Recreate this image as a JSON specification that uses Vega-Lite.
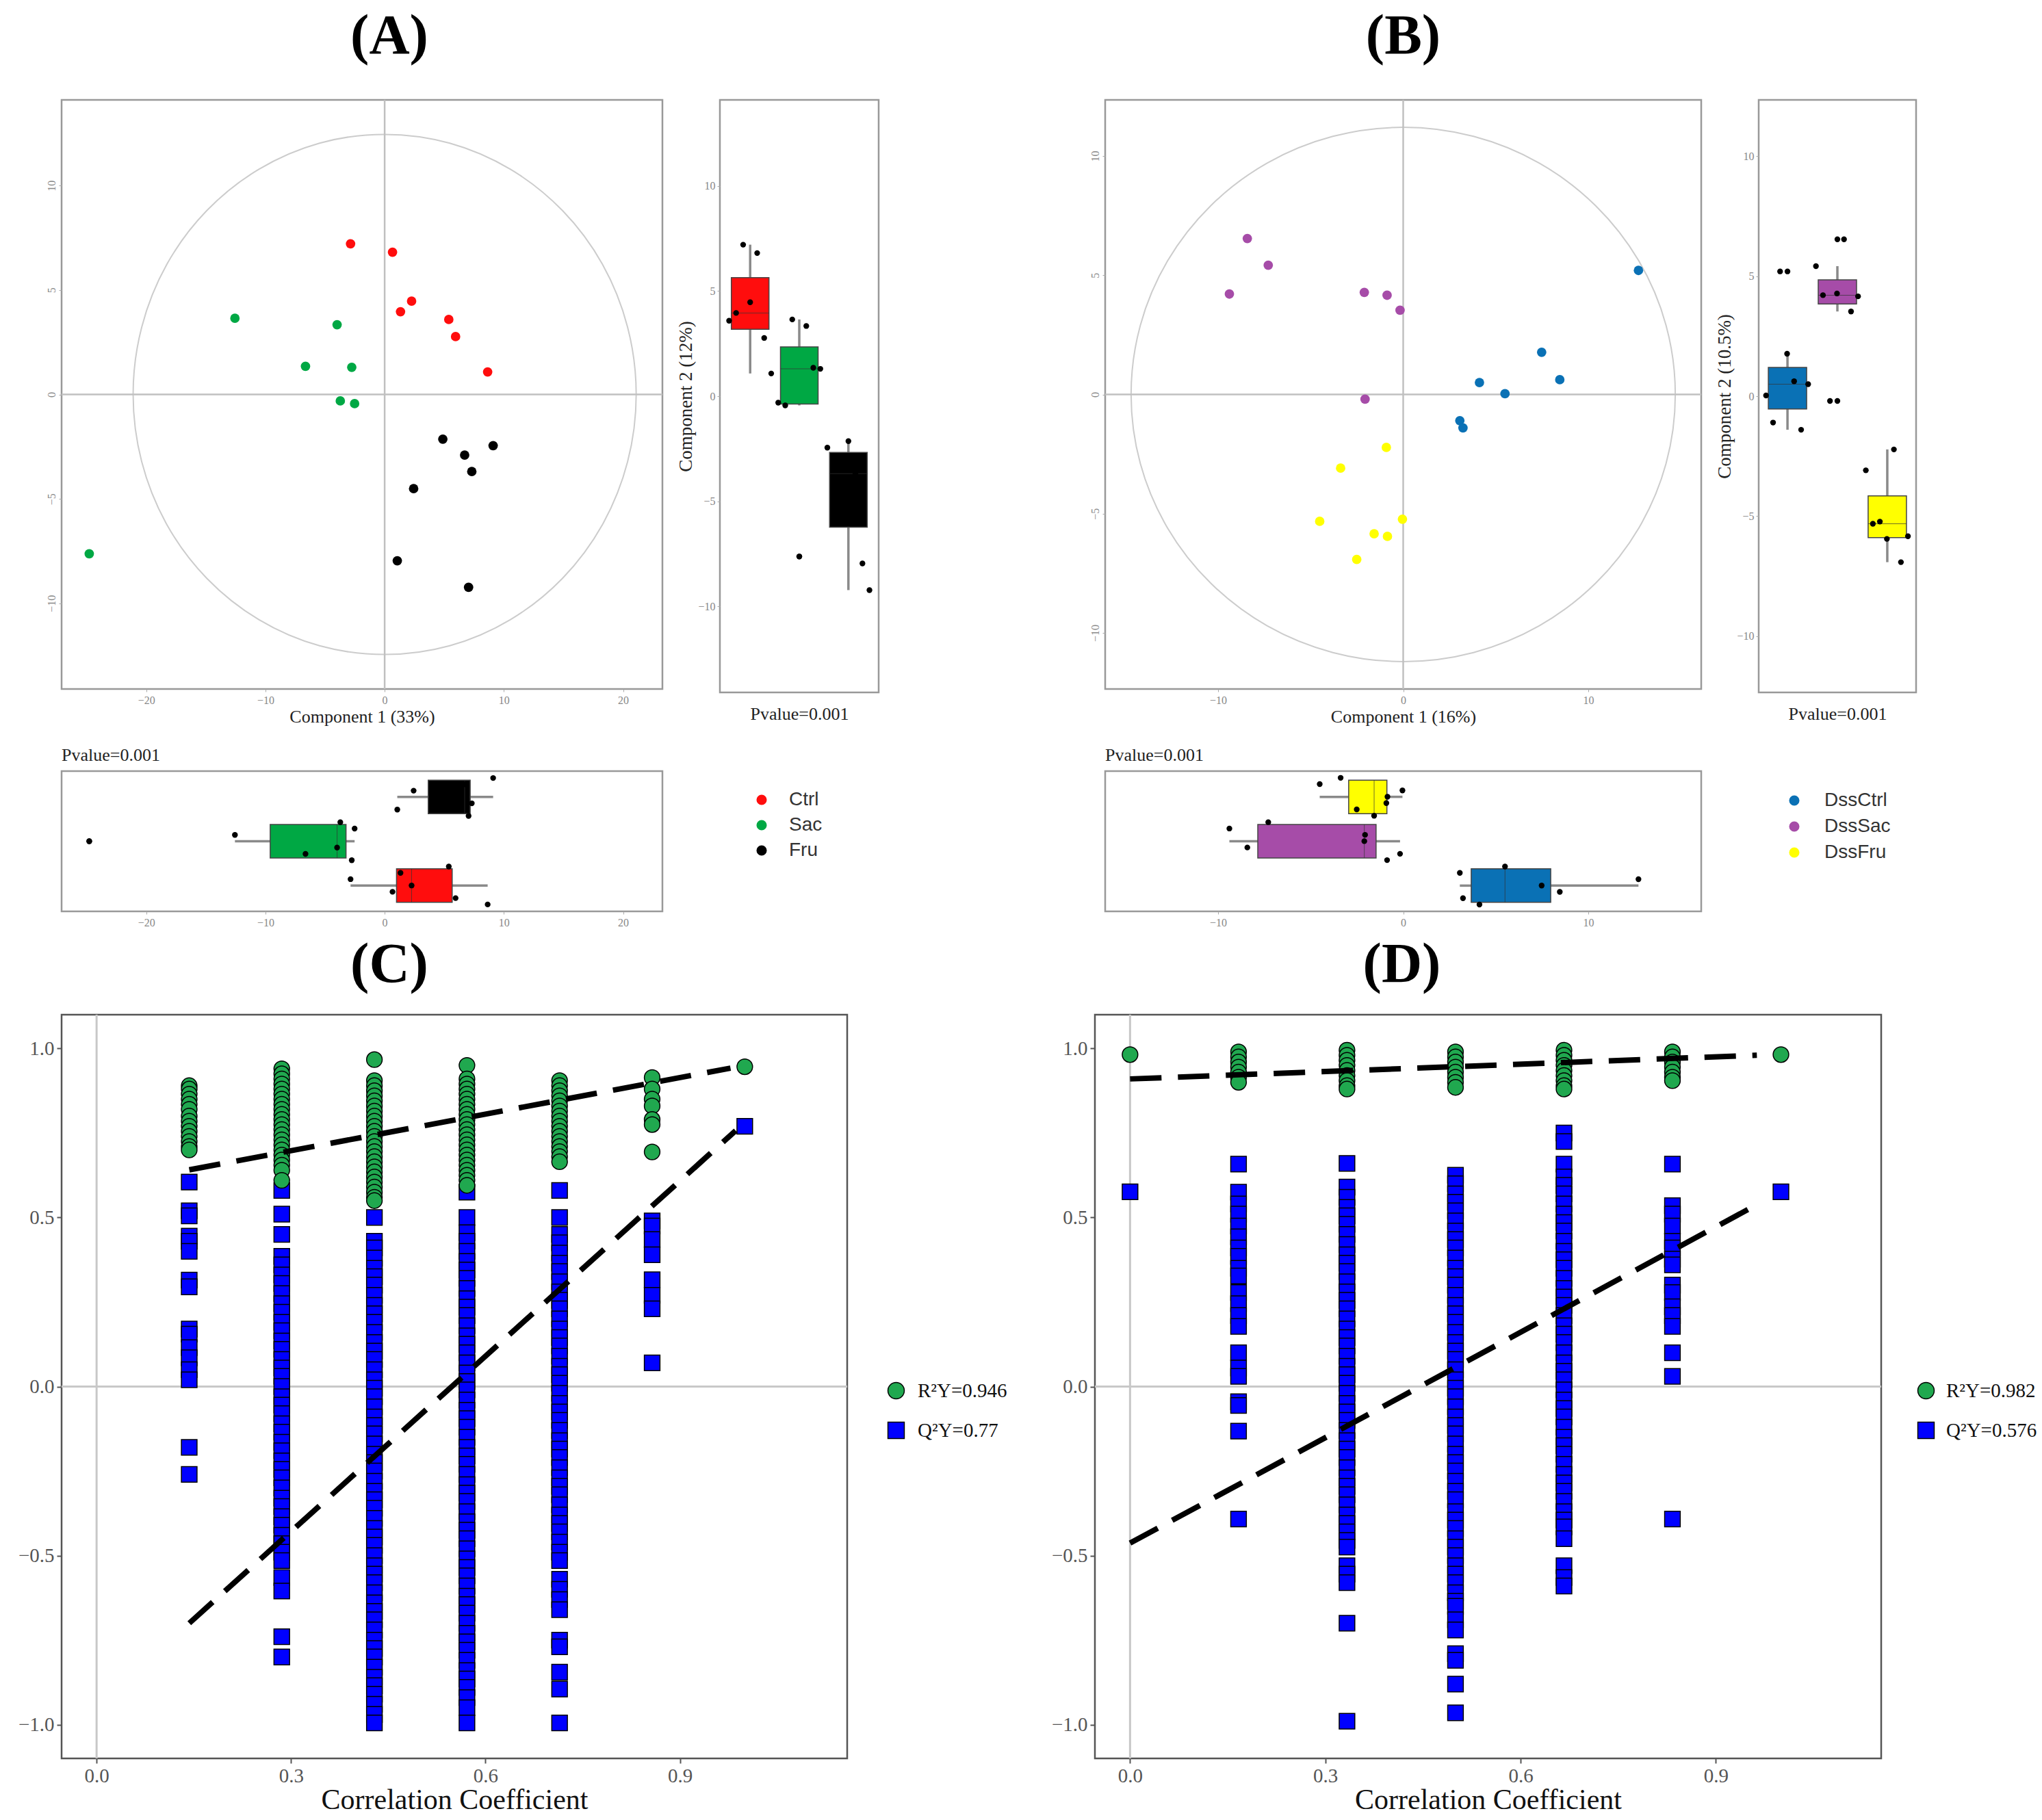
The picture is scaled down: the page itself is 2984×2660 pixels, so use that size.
{
"$schema":"https://vega.github.io/schema/vega-lite/v6.json",
"background":"white",
"padding":{"left":25,"top":10,"right":10,"bottom":5},
"config":{
"view":{"stroke":"#999","strokeWidth":2.5},
"axis":{"grid":false,"domain":false,"labelFont":"Liberation Serif","titleFont":"Liberation Serif","titleFontWeight":"normal","labelFontSize":16,"labelColor":"#888","tickColor":"#aaa","tickSize":4,"labelPadding":3,"titleColor":"#222","titleFontSize":26},
"title":{"font":"Liberation Serif","fontWeight":"bold","fontSize":82,"color":"#000","baseline":"alphabetic","frame":"group"}
},
"datasets":{
"a":[
{"g":"Ctrl","s":"s3","pc1":-2.86,"pc2":7.21},{"g":"Ctrl","s":"s5","pc1":0.66,"pc2":6.81},{"g":"Ctrl","s":"s4","pc1":2.26,"pc2":4.47},{"g":"Ctrl","s":"s2","pc1":1.33,"pc2":3.96},{"g":"Ctrl","s":"s1","pc1":5.38,"pc2":3.59},{"g":"Ctrl","s":"s6","pc1":5.95,"pc2":2.77},{"g":"Ctrl","s":"s7","pc1":8.64,"pc2":1.08},
{"g":"Sac","s":"s3","pc1":-12.56,"pc2":3.65},{"g":"Sac","s":"s5","pc1":-3.99,"pc2":3.34},{"g":"Sac","s":"s6","pc1":-6.64,"pc2":1.35},{"g":"Sac","s":"s7","pc1":-2.76,"pc2":1.3},{"g":"Sac","s":"s1","pc1":-3.72,"pc2":-0.31},{"g":"Sac","s":"s2","pc1":-2.52,"pc2":-0.44},{"g":"Sac","s":"s4","pc1":-24.78,"pc2":-7.63},
{"g":"Fru","s":"s4","pc1":4.88,"pc2":-2.14},{"g":"Fru","s":"s1","pc1":9.1,"pc2":-2.45},{"g":"Fru","s":"s2","pc1":6.71,"pc2":-2.9},{"g":"Fru","s":"s5","pc1":7.31,"pc2":-3.69},{"g":"Fru","s":"s3","pc1":2.43,"pc2":-4.51},{"g":"Fru","s":"s6","pc1":1.06,"pc2":-7.96},{"g":"Fru","s":"s7","pc1":7.04,"pc2":-9.23}
],
"b":[
{"g":"DssCtrl","s":"s3","pc1":12.71,"pc2":5.2},{"g":"DssCtrl","s":"s4","pc1":7.48,"pc2":1.77},{"g":"DssCtrl","s":"s5","pc1":8.46,"pc2":0.62},{"g":"DssCtrl","s":"s7","pc1":4.12,"pc2":0.5},{"g":"DssCtrl","s":"s1","pc1":5.5,"pc2":0.03},{"g":"DssCtrl","s":"s2","pc1":3.06,"pc2":-1.1},{"g":"DssCtrl","s":"s6","pc1":3.23,"pc2":-1.4},
{"g":"DssSac","s":"s5","pc1":-8.42,"pc2":6.54},{"g":"DssSac","s":"s1","pc1":-7.29,"pc2":5.42},{"g":"DssSac","s":"s2","pc1":-9.39,"pc2":4.21},{"g":"DssSac","s":"s4","pc1":-2.1,"pc2":4.28},{"g":"DssSac","s":"s7","pc1":-0.87,"pc2":4.16},{"g":"DssSac","s":"s6","pc1":-0.17,"pc2":3.53},{"g":"DssSac","s":"s3","pc1":-2.06,"pc2":-0.2},
{"g":"DssFru","s":"s5","pc1":-0.91,"pc2":-2.22},{"g":"DssFru","s":"s1","pc1":-3.38,"pc2":-3.09},{"g":"DssFru","s":"s3","pc1":-0.04,"pc2":-5.23},{"g":"DssFru","s":"s2","pc1":-4.51,"pc2":-5.32},{"g":"DssFru","s":"s7","pc1":-1.57,"pc2":-5.84},{"g":"DssFru","s":"s4","pc1":-0.85,"pc2":-5.95},{"g":"DssFru","s":"s6","pc1":-2.51,"pc2":-6.92}
],
"ea":[
{"i":0,"pc1":21.1,"pc2":0},{"i":1,"pc1":20.38,"pc2":3.22},{"i":2,"pc1":18.27,"pc2":6.23},{"i":3,"pc1":14.92,"pc2":8.8},{"i":4,"pc1":10.55,"pc2":10.78},{"i":5,"pc1":5.46,"pc2":12.03},{"i":6,"pc1":0,"pc2":12.45},{"i":7,"pc1":-5.46,"pc2":12.03},{"i":8,"pc1":-10.55,"pc2":10.78},{"i":9,"pc1":-14.92,"pc2":8.8},{"i":10,"pc1":-18.27,"pc2":6.23},{"i":11,"pc1":-20.38,"pc2":3.22},{"i":12,"pc1":-21.1,"pc2":0},{"i":13,"pc1":-20.38,"pc2":-3.22},{"i":14,"pc1":-18.27,"pc2":-6.23},{"i":15,"pc1":-14.92,"pc2":-8.8},{"i":16,"pc1":-10.55,"pc2":-10.78},{"i":17,"pc1":-5.46,"pc2":-12.03},{"i":18,"pc1":0,"pc2":-12.45},{"i":19,"pc1":5.46,"pc2":-12.03},{"i":20,"pc1":10.55,"pc2":-10.78},{"i":21,"pc1":14.92,"pc2":-8.8},{"i":22,"pc1":18.27,"pc2":-6.23},{"i":23,"pc1":20.38,"pc2":-3.22}
],
"eb":[
{"i":0,"pc1":14.7,"pc2":0},{"i":1,"pc1":14.2,"pc2":2.9},{"i":2,"pc1":12.73,"pc2":5.6},{"i":3,"pc1":10.39,"pc2":7.92},{"i":4,"pc1":7.35,"pc2":9.7},{"i":5,"pc1":3.8,"pc2":10.82},{"i":6,"pc1":0,"pc2":11.2},{"i":7,"pc1":-3.8,"pc2":10.82},{"i":8,"pc1":-7.35,"pc2":9.7},{"i":9,"pc1":-10.39,"pc2":7.92},{"i":10,"pc1":-12.73,"pc2":5.6},{"i":11,"pc1":-14.2,"pc2":2.9},{"i":12,"pc1":-14.7,"pc2":0},{"i":13,"pc1":-14.2,"pc2":-2.9},{"i":14,"pc1":-12.73,"pc2":-5.6},{"i":15,"pc1":-10.39,"pc2":-7.92},{"i":16,"pc1":-7.35,"pc2":-9.7},{"i":17,"pc1":-3.8,"pc2":-10.82},{"i":18,"pc1":0,"pc2":-11.2},{"i":19,"pc1":3.8,"pc2":-10.82},{"i":20,"pc1":7.35,"pc2":-9.7},{"i":21,"pc1":10.39,"pc2":-7.92},{"i":22,"pc1":12.73,"pc2":-5.6},{"i":23,"pc1":14.2,"pc2":-2.9}
],
"pc":[
{"x":0.1429,"k":"Q","y":0.605},{"x":0.1429,"k":"Q","y":0.52},{"x":0.1429,"k":"Q","y":0.505},{"x":0.1429,"k":"Q","y":0.445},{"x":0.1429,"k":"Q","y":0.43},{"x":0.1429,"k":"Q","y":0.4},{"x":0.1429,"k":"Q","y":0.315},{"x":0.1429,"k":"Q","y":0.295},{"x":0.1429,"k":"Q","y":0.17},{"x":0.1429,"k":"Q","y":0.155},{"x":0.1429,"k":"Q","y":0.115},{"x":0.1429,"k":"Q","y":0.085},{"x":0.1429,"k":"Q","y":0.05},{"x":0.1429,"k":"Q","y":0.02},{"x":0.1429,"k":"Q","y":-0.18},{"x":0.1429,"k":"Q","y":-0.26},
{"x":0.2857,"k":"Q","y":0.58},{"x":0.2857,"k":"Q","y":0.51},{"x":0.2857,"k":"Q","y":0.45},{"x":0.2857,"k":"Q","y":0.385},{"x":0.2857,"k":"Q","y":0.36},{"x":0.2857,"k":"Q","y":0.33},{"x":0.2857,"k":"Q","y":0.305},{"x":0.2857,"k":"Q","y":0.275},{"x":0.2857,"k":"Q","y":0.245},{"x":0.2857,"k":"Q","y":0.22},{"x":0.2857,"k":"Q","y":0.19},{"x":0.2857,"k":"Q","y":0.165},{"x":0.2857,"k":"Q","y":0.135},{"x":0.2857,"k":"Q","y":0.11},{"x":0.2857,"k":"Q","y":0.08},{"x":0.2857,"k":"Q","y":0.055},{"x":0.2857,"k":"Q","y":0.03},{"x":0.2857,"k":"Q","y":0},{"x":0.2857,"k":"Q","y":-0.03},{"x":0.2857,"k":"Q","y":-0.055},{"x":0.2857,"k":"Q","y":-0.08},{"x":0.2857,"k":"Q","y":-0.11},{"x":0.2857,"k":"Q","y":-0.135},{"x":0.2857,"k":"Q","y":-0.165},{"x":0.2857,"k":"Q","y":-0.19},{"x":0.2857,"k":"Q","y":-0.22},{"x":0.2857,"k":"Q","y":-0.245},{"x":0.2857,"k":"Q","y":-0.27},{"x":0.2857,"k":"Q","y":-0.3},{"x":0.2857,"k":"Q","y":-0.33},{"x":0.2857,"k":"Q","y":-0.355},{"x":0.2857,"k":"Q","y":-0.385},{"x":0.2857,"k":"Q","y":-0.41},{"x":0.2857,"k":"Q","y":-0.44},{"x":0.2857,"k":"Q","y":-0.465},{"x":0.2857,"k":"Q","y":-0.49},{"x":0.2857,"k":"Q","y":-0.515},{"x":0.2857,"k":"Q","y":-0.565},{"x":0.2857,"k":"Q","y":-0.605},{"x":0.2857,"k":"Q","y":-0.74},{"x":0.2857,"k":"Q","y":-0.8},
{"x":0.4286,"k":"Q","y":0.5},{"x":0.4286,"k":"Q","y":0.43},{"x":0.4286,"k":"Q","y":0.41},{"x":0.4286,"k":"Q","y":0.38},{"x":0.4286,"k":"Q","y":0.35},{"x":0.4286,"k":"Q","y":0.325},{"x":0.4286,"k":"Q","y":0.3},{"x":0.4286,"k":"Q","y":0.27},{"x":0.4286,"k":"Q","y":0.24},{"x":0.4286,"k":"Q","y":0.215},{"x":0.4286,"k":"Q","y":0.19},{"x":0.4286,"k":"Q","y":0.16},{"x":0.4286,"k":"Q","y":0.13},{"x":0.4286,"k":"Q","y":0.105},{"x":0.4286,"k":"Q","y":0.08},{"x":0.4286,"k":"Q","y":0.05},{"x":0.4286,"k":"Q","y":0.02},{"x":0.4286,"k":"Q","y":-0.005},{"x":0.4286,"k":"Q","y":-0.03},{"x":0.4286,"k":"Q","y":-0.06},{"x":0.4286,"k":"Q","y":-0.09},{"x":0.4286,"k":"Q","y":-0.115},{"x":0.4286,"k":"Q","y":-0.14},{"x":0.4286,"k":"Q","y":-0.17},{"x":0.4286,"k":"Q","y":-0.2},{"x":0.4286,"k":"Q","y":-0.225},{"x":0.4286,"k":"Q","y":-0.25},{"x":0.4286,"k":"Q","y":-0.28},{"x":0.4286,"k":"Q","y":-0.31},{"x":0.4286,"k":"Q","y":-0.335},{"x":0.4286,"k":"Q","y":-0.36},{"x":0.4286,"k":"Q","y":-0.39},{"x":0.4286,"k":"Q","y":-0.42},{"x":0.4286,"k":"Q","y":-0.445},{"x":0.4286,"k":"Q","y":-0.47},{"x":0.4286,"k":"Q","y":-0.5},{"x":0.4286,"k":"Q","y":-0.53},{"x":0.4286,"k":"Q","y":-0.555},{"x":0.4286,"k":"Q","y":-0.58},{"x":0.4286,"k":"Q","y":-0.61},{"x":0.4286,"k":"Q","y":-0.64},{"x":0.4286,"k":"Q","y":-0.665},{"x":0.4286,"k":"Q","y":-0.69},{"x":0.4286,"k":"Q","y":-0.72},{"x":0.4286,"k":"Q","y":-0.75},{"x":0.4286,"k":"Q","y":-0.775},{"x":0.4286,"k":"Q","y":-0.8},{"x":0.4286,"k":"Q","y":-0.83},{"x":0.4286,"k":"Q","y":-0.86},{"x":0.4286,"k":"Q","y":-0.885},{"x":0.4286,"k":"Q","y":-0.91},{"x":0.4286,"k":"Q","y":-0.94},{"x":0.4286,"k":"Q","y":-0.97},{"x":0.4286,"k":"Q","y":-0.995},
{"x":0.5714,"k":"Q","y":0.575},{"x":0.5714,"k":"Q","y":0.5},{"x":0.5714,"k":"Q","y":0.455},{"x":0.5714,"k":"Q","y":0.43},{"x":0.5714,"k":"Q","y":0.4},{"x":0.5714,"k":"Q","y":0.37},{"x":0.5714,"k":"Q","y":0.345},{"x":0.5714,"k":"Q","y":0.32},{"x":0.5714,"k":"Q","y":0.29},{"x":0.5714,"k":"Q","y":0.26},{"x":0.5714,"k":"Q","y":0.235},{"x":0.5714,"k":"Q","y":0.21},{"x":0.5714,"k":"Q","y":0.18},{"x":0.5714,"k":"Q","y":0.15},{"x":0.5714,"k":"Q","y":0.125},{"x":0.5714,"k":"Q","y":0.1},{"x":0.5714,"k":"Q","y":0.07},{"x":0.5714,"k":"Q","y":0.04},{"x":0.5714,"k":"Q","y":0.015},{"x":0.5714,"k":"Q","y":-0.01},{"x":0.5714,"k":"Q","y":-0.04},{"x":0.5714,"k":"Q","y":-0.07},{"x":0.5714,"k":"Q","y":-0.095},{"x":0.5714,"k":"Q","y":-0.12},{"x":0.5714,"k":"Q","y":-0.15},{"x":0.5714,"k":"Q","y":-0.18},{"x":0.5714,"k":"Q","y":-0.205},{"x":0.5714,"k":"Q","y":-0.23},{"x":0.5714,"k":"Q","y":-0.26},{"x":0.5714,"k":"Q","y":-0.29},{"x":0.5714,"k":"Q","y":-0.315},{"x":0.5714,"k":"Q","y":-0.34},{"x":0.5714,"k":"Q","y":-0.37},{"x":0.5714,"k":"Q","y":-0.4},{"x":0.5714,"k":"Q","y":-0.425},{"x":0.5714,"k":"Q","y":-0.45},{"x":0.5714,"k":"Q","y":-0.48},{"x":0.5714,"k":"Q","y":-0.51},{"x":0.5714,"k":"Q","y":-0.535},{"x":0.5714,"k":"Q","y":-0.56},{"x":0.5714,"k":"Q","y":-0.59},{"x":0.5714,"k":"Q","y":-0.62},{"x":0.5714,"k":"Q","y":-0.645},{"x":0.5714,"k":"Q","y":-0.67},{"x":0.5714,"k":"Q","y":-0.7},{"x":0.5714,"k":"Q","y":-0.73},{"x":0.5714,"k":"Q","y":-0.755},{"x":0.5714,"k":"Q","y":-0.78},{"x":0.5714,"k":"Q","y":-0.81},{"x":0.5714,"k":"Q","y":-0.84},{"x":0.5714,"k":"Q","y":-0.865},{"x":0.5714,"k":"Q","y":-0.89},{"x":0.5714,"k":"Q","y":-0.92},{"x":0.5714,"k":"Q","y":-0.95},{"x":0.5714,"k":"Q","y":-0.995},
{"x":0.7143,"k":"Q","y":0.58},{"x":0.7143,"k":"Q","y":0.5},{"x":0.7143,"k":"Q","y":0.45},{"x":0.7143,"k":"Q","y":0.425},{"x":0.7143,"k":"Q","y":0.395},{"x":0.7143,"k":"Q","y":0.365},{"x":0.7143,"k":"Q","y":0.34},{"x":0.7143,"k":"Q","y":0.31},{"x":0.7143,"k":"Q","y":0.28},{"x":0.7143,"k":"Q","y":0.255},{"x":0.7143,"k":"Q","y":0.23},{"x":0.7143,"k":"Q","y":0.2},{"x":0.7143,"k":"Q","y":0.17},{"x":0.7143,"k":"Q","y":0.145},{"x":0.7143,"k":"Q","y":0.12},{"x":0.7143,"k":"Q","y":0.09},{"x":0.7143,"k":"Q","y":0.06},{"x":0.7143,"k":"Q","y":0.035},{"x":0.7143,"k":"Q","y":0.01},{"x":0.7143,"k":"Q","y":-0.02},{"x":0.7143,"k":"Q","y":-0.05},{"x":0.7143,"k":"Q","y":-0.075},{"x":0.7143,"k":"Q","y":-0.1},{"x":0.7143,"k":"Q","y":-0.13},{"x":0.7143,"k":"Q","y":-0.16},{"x":0.7143,"k":"Q","y":-0.185},{"x":0.7143,"k":"Q","y":-0.21},{"x":0.7143,"k":"Q","y":-0.24},{"x":0.7143,"k":"Q","y":-0.27},{"x":0.7143,"k":"Q","y":-0.295},{"x":0.7143,"k":"Q","y":-0.32},{"x":0.7143,"k":"Q","y":-0.35},{"x":0.7143,"k":"Q","y":-0.38},{"x":0.7143,"k":"Q","y":-0.405},{"x":0.7143,"k":"Q","y":-0.43},{"x":0.7143,"k":"Q","y":-0.46},{"x":0.7143,"k":"Q","y":-0.49},{"x":0.7143,"k":"Q","y":-0.515},{"x":0.7143,"k":"Q","y":-0.57},{"x":0.7143,"k":"Q","y":-0.6},{"x":0.7143,"k":"Q","y":-0.63},{"x":0.7143,"k":"Q","y":-0.66},{"x":0.7143,"k":"Q","y":-0.75},{"x":0.7143,"k":"Q","y":-0.77},{"x":0.7143,"k":"Q","y":-0.845},{"x":0.7143,"k":"Q","y":-0.895},{"x":0.7143,"k":"Q","y":-0.995},
{"x":0.8571,"k":"Q","y":0.49},{"x":0.8571,"k":"Q","y":0.475},{"x":0.8571,"k":"Q","y":0.435},{"x":0.8571,"k":"Q","y":0.39},{"x":0.8571,"k":"Q","y":0.316},{"x":0.8571,"k":"Q","y":0.27},{"x":0.8571,"k":"Q","y":0.23},{"x":0.8571,"k":"Q","y":0.07},
{"x":1,"k":"Q","y":0.77},
{"x":0.1429,"k":"R","y":0.89},{"x":0.1429,"k":"R","y":0.88},{"x":0.1429,"k":"R","y":0.865},{"x":0.1429,"k":"R","y":0.85},{"x":0.1429,"k":"R","y":0.835},{"x":0.1429,"k":"R","y":0.82},{"x":0.1429,"k":"R","y":0.8},{"x":0.1429,"k":"R","y":0.785},{"x":0.1429,"k":"R","y":0.77},{"x":0.1429,"k":"R","y":0.755},{"x":0.1429,"k":"R","y":0.74},{"x":0.1429,"k":"R","y":0.725},{"x":0.1429,"k":"R","y":0.71},{"x":0.1429,"k":"R","y":0.7},
{"x":0.2857,"k":"R","y":0.94},{"x":0.2857,"k":"R","y":0.925},{"x":0.2857,"k":"R","y":0.91},{"x":0.2857,"k":"R","y":0.895},{"x":0.2857,"k":"R","y":0.88},{"x":0.2857,"k":"R","y":0.865},{"x":0.2857,"k":"R","y":0.85},{"x":0.2857,"k":"R","y":0.835},{"x":0.2857,"k":"R","y":0.82},{"x":0.2857,"k":"R","y":0.805},{"x":0.2857,"k":"R","y":0.79},{"x":0.2857,"k":"R","y":0.775},{"x":0.2857,"k":"R","y":0.76},{"x":0.2857,"k":"R","y":0.745},{"x":0.2857,"k":"R","y":0.73},{"x":0.2857,"k":"R","y":0.715},{"x":0.2857,"k":"R","y":0.7},{"x":0.2857,"k":"R","y":0.685},{"x":0.2857,"k":"R","y":0.67},{"x":0.2857,"k":"R","y":0.655},{"x":0.2857,"k":"R","y":0.64},{"x":0.2857,"k":"R","y":0.61},
{"x":0.4286,"k":"R","y":0.967},{"x":0.4286,"k":"R","y":0.905},{"x":0.4286,"k":"R","y":0.89},{"x":0.4286,"k":"R","y":0.875},{"x":0.4286,"k":"R","y":0.86},{"x":0.4286,"k":"R","y":0.845},{"x":0.4286,"k":"R","y":0.83},{"x":0.4286,"k":"R","y":0.815},{"x":0.4286,"k":"R","y":0.8},{"x":0.4286,"k":"R","y":0.785},{"x":0.4286,"k":"R","y":0.77},{"x":0.4286,"k":"R","y":0.755},{"x":0.4286,"k":"R","y":0.74},{"x":0.4286,"k":"R","y":0.725},{"x":0.4286,"k":"R","y":0.71},{"x":0.4286,"k":"R","y":0.695},{"x":0.4286,"k":"R","y":0.68},{"x":0.4286,"k":"R","y":0.665},{"x":0.4286,"k":"R","y":0.65},{"x":0.4286,"k":"R","y":0.635},{"x":0.4286,"k":"R","y":0.62},{"x":0.4286,"k":"R","y":0.605},{"x":0.4286,"k":"R","y":0.59},{"x":0.4286,"k":"R","y":0.575},{"x":0.4286,"k":"R","y":0.56},{"x":0.4286,"k":"R","y":0.55},
{"x":0.5714,"k":"R","y":0.95},{"x":0.5714,"k":"R","y":0.91},{"x":0.5714,"k":"R","y":0.895},{"x":0.5714,"k":"R","y":0.88},{"x":0.5714,"k":"R","y":0.865},{"x":0.5714,"k":"R","y":0.85},{"x":0.5714,"k":"R","y":0.835},{"x":0.5714,"k":"R","y":0.82},{"x":0.5714,"k":"R","y":0.805},{"x":0.5714,"k":"R","y":0.79},{"x":0.5714,"k":"R","y":0.775},{"x":0.5714,"k":"R","y":0.76},{"x":0.5714,"k":"R","y":0.745},{"x":0.5714,"k":"R","y":0.73},{"x":0.5714,"k":"R","y":0.715},{"x":0.5714,"k":"R","y":0.7},{"x":0.5714,"k":"R","y":0.685},{"x":0.5714,"k":"R","y":0.67},{"x":0.5714,"k":"R","y":0.655},{"x":0.5714,"k":"R","y":0.64},{"x":0.5714,"k":"R","y":0.625},{"x":0.5714,"k":"R","y":0.61},{"x":0.5714,"k":"R","y":0.595},
{"x":0.7143,"k":"R","y":0.905},{"x":0.7143,"k":"R","y":0.89},{"x":0.7143,"k":"R","y":0.875},{"x":0.7143,"k":"R","y":0.86},{"x":0.7143,"k":"R","y":0.845},{"x":0.7143,"k":"R","y":0.83},{"x":0.7143,"k":"R","y":0.815},{"x":0.7143,"k":"R","y":0.8},{"x":0.7143,"k":"R","y":0.785},{"x":0.7143,"k":"R","y":0.77},{"x":0.7143,"k":"R","y":0.755},{"x":0.7143,"k":"R","y":0.74},{"x":0.7143,"k":"R","y":0.725},{"x":0.7143,"k":"R","y":0.71},{"x":0.7143,"k":"R","y":0.695},{"x":0.7143,"k":"R","y":0.68},{"x":0.7143,"k":"R","y":0.665},
{"x":0.8571,"k":"R","y":0.914},{"x":0.8571,"k":"R","y":0.88},{"x":0.8571,"k":"R","y":0.85},{"x":0.8571,"k":"R","y":0.83},{"x":0.8571,"k":"R","y":0.79},{"x":0.8571,"k":"R","y":0.775},{"x":0.8571,"k":"R","y":0.694},
{"x":1,"k":"R","y":0.946}
],
"pd":[
{"x":0,"k":"Q","y":0.576},
{"x":0.1667,"k":"Q","y":0.658},{"x":0.1667,"k":"Q","y":0.575},{"x":0.1667,"k":"Q","y":0.54},{"x":0.1667,"k":"Q","y":0.51},{"x":0.1667,"k":"Q","y":0.475},{"x":0.1667,"k":"Q","y":0.443},{"x":0.1667,"k":"Q","y":0.41},{"x":0.1667,"k":"Q","y":0.385},{"x":0.1667,"k":"Q","y":0.35},{"x":0.1667,"k":"Q","y":0.327},{"x":0.1667,"k":"Q","y":0.278},{"x":0.1667,"k":"Q","y":0.245},{"x":0.1667,"k":"Q","y":0.21},{"x":0.1667,"k":"Q","y":0.178},{"x":0.1667,"k":"Q","y":0.1},{"x":0.1667,"k":"Q","y":0.055},{"x":0.1667,"k":"Q","y":0.03},{"x":0.1667,"k":"Q","y":-0.045},{"x":0.1667,"k":"Q","y":-0.056},{"x":0.1667,"k":"Q","y":-0.132},{"x":0.1667,"k":"Q","y":-0.392},
{"x":0.3333,"k":"Q","y":0.66},{"x":0.3333,"k":"Q","y":0.59},{"x":0.3333,"k":"Q","y":0.56},{"x":0.3333,"k":"Q","y":0.53},{"x":0.3333,"k":"Q","y":0.505},{"x":0.3333,"k":"Q","y":0.48},{"x":0.3333,"k":"Q","y":0.45},{"x":0.3333,"k":"Q","y":0.42},{"x":0.3333,"k":"Q","y":0.39},{"x":0.3333,"k":"Q","y":0.365},{"x":0.3333,"k":"Q","y":0.34},{"x":0.3333,"k":"Q","y":0.31},{"x":0.3333,"k":"Q","y":0.28},{"x":0.3333,"k":"Q","y":0.255},{"x":0.3333,"k":"Q","y":0.23},{"x":0.3333,"k":"Q","y":0.2},{"x":0.3333,"k":"Q","y":0.17},{"x":0.3333,"k":"Q","y":0.145},{"x":0.3333,"k":"Q","y":0.12},{"x":0.3333,"k":"Q","y":0.09},{"x":0.3333,"k":"Q","y":0.06},{"x":0.3333,"k":"Q","y":0.035},{"x":0.3333,"k":"Q","y":0.01},{"x":0.3333,"k":"Q","y":-0.02},{"x":0.3333,"k":"Q","y":-0.05},{"x":0.3333,"k":"Q","y":-0.075},{"x":0.3333,"k":"Q","y":-0.1},{"x":0.3333,"k":"Q","y":-0.13},{"x":0.3333,"k":"Q","y":-0.16},{"x":0.3333,"k":"Q","y":-0.185},{"x":0.3333,"k":"Q","y":-0.21},{"x":0.3333,"k":"Q","y":-0.24},{"x":0.3333,"k":"Q","y":-0.27},{"x":0.3333,"k":"Q","y":-0.295},{"x":0.3333,"k":"Q","y":-0.32},{"x":0.3333,"k":"Q","y":-0.35},{"x":0.3333,"k":"Q","y":-0.38},{"x":0.3333,"k":"Q","y":-0.405},{"x":0.3333,"k":"Q","y":-0.43},{"x":0.3333,"k":"Q","y":-0.455},{"x":0.3333,"k":"Q","y":-0.475},{"x":0.3333,"k":"Q","y":-0.53},{"x":0.3333,"k":"Q","y":-0.555},{"x":0.3333,"k":"Q","y":-0.58},{"x":0.3333,"k":"Q","y":-0.7},{"x":0.3333,"k":"Q","y":-0.99},
{"x":0.5,"k":"Q","y":0.625},{"x":0.5,"k":"Q","y":0.6},{"x":0.5,"k":"Q","y":0.57},{"x":0.5,"k":"Q","y":0.545},{"x":0.5,"k":"Q","y":0.52},{"x":0.5,"k":"Q","y":0.49},{"x":0.5,"k":"Q","y":0.46},{"x":0.5,"k":"Q","y":0.435},{"x":0.5,"k":"Q","y":0.41},{"x":0.5,"k":"Q","y":0.38},{"x":0.5,"k":"Q","y":0.35},{"x":0.5,"k":"Q","y":0.325},{"x":0.5,"k":"Q","y":0.3},{"x":0.5,"k":"Q","y":0.27},{"x":0.5,"k":"Q","y":0.24},{"x":0.5,"k":"Q","y":0.215},{"x":0.5,"k":"Q","y":0.19},{"x":0.5,"k":"Q","y":0.16},{"x":0.5,"k":"Q","y":0.13},{"x":0.5,"k":"Q","y":0.105},{"x":0.5,"k":"Q","y":0.08},{"x":0.5,"k":"Q","y":0.05},{"x":0.5,"k":"Q","y":0.02},{"x":0.5,"k":"Q","y":-0.005},{"x":0.5,"k":"Q","y":-0.03},{"x":0.5,"k":"Q","y":-0.06},{"x":0.5,"k":"Q","y":-0.09},{"x":0.5,"k":"Q","y":-0.115},{"x":0.5,"k":"Q","y":-0.14},{"x":0.5,"k":"Q","y":-0.17},{"x":0.5,"k":"Q","y":-0.2},{"x":0.5,"k":"Q","y":-0.225},{"x":0.5,"k":"Q","y":-0.25},{"x":0.5,"k":"Q","y":-0.28},{"x":0.5,"k":"Q","y":-0.31},{"x":0.5,"k":"Q","y":-0.335},{"x":0.5,"k":"Q","y":-0.37},{"x":0.5,"k":"Q","y":-0.395},{"x":0.5,"k":"Q","y":-0.42},{"x":0.5,"k":"Q","y":-0.45},{"x":0.5,"k":"Q","y":-0.475},{"x":0.5,"k":"Q","y":-0.5},{"x":0.5,"k":"Q","y":-0.53},{"x":0.5,"k":"Q","y":-0.555},{"x":0.5,"k":"Q","y":-0.58},{"x":0.5,"k":"Q","y":-0.61},{"x":0.5,"k":"Q","y":-0.635},{"x":0.5,"k":"Q","y":-0.65},{"x":0.5,"k":"Q","y":-0.69},{"x":0.5,"k":"Q","y":-0.72},{"x":0.5,"k":"Q","y":-0.79},{"x":0.5,"k":"Q","y":-0.81},{"x":0.5,"k":"Q","y":-0.88},{"x":0.5,"k":"Q","y":-0.965},
{"x":0.6667,"k":"Q","y":0.75},{"x":0.6667,"k":"Q","y":0.725},{"x":0.6667,"k":"Q","y":0.658},{"x":0.6667,"k":"Q","y":0.62},{"x":0.6667,"k":"Q","y":0.595},{"x":0.6667,"k":"Q","y":0.57},{"x":0.6667,"k":"Q","y":0.54},{"x":0.6667,"k":"Q","y":0.51},{"x":0.6667,"k":"Q","y":0.485},{"x":0.6667,"k":"Q","y":0.46},{"x":0.6667,"k":"Q","y":0.43},{"x":0.6667,"k":"Q","y":0.4},{"x":0.6667,"k":"Q","y":0.375},{"x":0.6667,"k":"Q","y":0.35},{"x":0.6667,"k":"Q","y":0.32},{"x":0.6667,"k":"Q","y":0.29},{"x":0.6667,"k":"Q","y":0.265},{"x":0.6667,"k":"Q","y":0.24},{"x":0.6667,"k":"Q","y":0.21},{"x":0.6667,"k":"Q","y":0.18},{"x":0.6667,"k":"Q","y":0.155},{"x":0.6667,"k":"Q","y":0.13},{"x":0.6667,"k":"Q","y":0.1},{"x":0.6667,"k":"Q","y":0.07},{"x":0.6667,"k":"Q","y":0.045},{"x":0.6667,"k":"Q","y":0.02},{"x":0.6667,"k":"Q","y":-0.01},{"x":0.6667,"k":"Q","y":-0.04},{"x":0.6667,"k":"Q","y":-0.065},{"x":0.6667,"k":"Q","y":-0.09},{"x":0.6667,"k":"Q","y":-0.12},{"x":0.6667,"k":"Q","y":-0.15},{"x":0.6667,"k":"Q","y":-0.175},{"x":0.6667,"k":"Q","y":-0.2},{"x":0.6667,"k":"Q","y":-0.23},{"x":0.6667,"k":"Q","y":-0.26},{"x":0.6667,"k":"Q","y":-0.285},{"x":0.6667,"k":"Q","y":-0.31},{"x":0.6667,"k":"Q","y":-0.34},{"x":0.6667,"k":"Q","y":-0.37},{"x":0.6667,"k":"Q","y":-0.395},{"x":0.6667,"k":"Q","y":-0.415},{"x":0.6667,"k":"Q","y":-0.45},{"x":0.6667,"k":"Q","y":-0.53},{"x":0.6667,"k":"Q","y":-0.565},{"x":0.6667,"k":"Q","y":-0.59},
{"x":0.8333,"k":"Q","y":0.658},{"x":0.8333,"k":"Q","y":0.535},{"x":0.8333,"k":"Q","y":0.51},{"x":0.8333,"k":"Q","y":0.475},{"x":0.8333,"k":"Q","y":0.43},{"x":0.8333,"k":"Q","y":0.41},{"x":0.8333,"k":"Q","y":0.377},{"x":0.8333,"k":"Q","y":0.36},{"x":0.8333,"k":"Q","y":0.3},{"x":0.8333,"k":"Q","y":0.278},{"x":0.8333,"k":"Q","y":0.236},{"x":0.8333,"k":"Q","y":0.21},{"x":0.8333,"k":"Q","y":0.178},{"x":0.8333,"k":"Q","y":0.1},{"x":0.8333,"k":"Q","y":0.03},{"x":0.8333,"k":"Q","y":-0.392},
{"x":1,"k":"Q","y":0.576},
{"x":0,"k":"R","y":0.982},
{"x":0.1667,"k":"R","y":0.99},{"x":0.1667,"k":"R","y":0.975},{"x":0.1667,"k":"R","y":0.96},{"x":0.1667,"k":"R","y":0.945},{"x":0.1667,"k":"R","y":0.93},{"x":0.1667,"k":"R","y":0.915},{"x":0.1667,"k":"R","y":0.9},
{"x":0.3333,"k":"R","y":0.995},{"x":0.3333,"k":"R","y":0.98},{"x":0.3333,"k":"R","y":0.965},{"x":0.3333,"k":"R","y":0.95},{"x":0.3333,"k":"R","y":0.935},{"x":0.3333,"k":"R","y":0.92},{"x":0.3333,"k":"R","y":0.905},{"x":0.3333,"k":"R","y":0.89},{"x":0.3333,"k":"R","y":0.88},
{"x":0.5,"k":"R","y":0.99},{"x":0.5,"k":"R","y":0.975},{"x":0.5,"k":"R","y":0.96},{"x":0.5,"k":"R","y":0.945},{"x":0.5,"k":"R","y":0.93},{"x":0.5,"k":"R","y":0.915},{"x":0.5,"k":"R","y":0.9},{"x":0.5,"k":"R","y":0.885},
{"x":0.6667,"k":"R","y":0.995},{"x":0.6667,"k":"R","y":0.98},{"x":0.6667,"k":"R","y":0.965},{"x":0.6667,"k":"R","y":0.95},{"x":0.6667,"k":"R","y":0.935},{"x":0.6667,"k":"R","y":0.92},{"x":0.6667,"k":"R","y":0.905},{"x":0.6667,"k":"R","y":0.89},{"x":0.6667,"k":"R","y":0.88},
{"x":0.8333,"k":"R","y":0.99},{"x":0.8333,"k":"R","y":0.975},{"x":0.8333,"k":"R","y":0.96},{"x":0.8333,"k":"R","y":0.945},{"x":0.8333,"k":"R","y":0.93},{"x":0.8333,"k":"R","y":0.915},{"x":0.8333,"k":"R","y":0.905},
{"x":1,"k":"R","y":0.982}
],
"lc":[{"k":"R","x":0.143,"y":0.641},{"k":"R","x":0.978,"y":0.942},{"k":"Q","x":0.143,"y":-0.7},{"k":"Q","x":0.986,"y":0.757}],
"ld":[{"k":"R","x":0,"y":0.91},{"k":"R","x":0.963,"y":0.98},{"k":"Q","x":0,"y":-0.463},{"k":"Q","x":0.965,"y":0.54}]
},
"vconcat":[
{"hconcat":[
 {"vconcat":[
  {"hconcat":[
   {"width":878,"height":861,
    "title":{"text":"(A)","dx":40,"offset":50},
    "layer":[
     {"data":{"name":"ea"},"mark":{"type":"line","interpolate":"cardinal-closed","color":"#cccccc","strokeWidth":2},
      "encoding":{"x":{"field":"pc1","type":"quantitative","scale":{"domain":[-27.1,23.3],"nice":false,"zero":false},"axis":{"values":[-20,-10,0,10,20],"title":"Component 1 (33%)","titlePadding":3,"labelPadding":4}},
       "y":{"field":"pc2","type":"quantitative","scale":{"domain":[-14.1,14.1],"nice":false,"zero":false},"axis":{"values":[-10,-5,0,5,10],"title":null,"labelAngle":-90,"labelAlign":"center","labelBaseline":"bottom"}},
       "order":{"field":"i","type":"quantitative"}}},
     {"data":{"values":[{}]},"mark":{"type":"rule","color":"#c0c0c0","strokeWidth":2.5},"encoding":{"x":{"datum":0,"type":"quantitative"}}},
     {"data":{"values":[{}]},"mark":{"type":"rule","color":"#c0c0c0","strokeWidth":2.5},"encoding":{"y":{"datum":0,"type":"quantitative"}}},
     {"data":{"name":"a"},"mark":{"type":"circle","size":190,"opacity":1},
      "encoding":{"x":{"field":"pc1","type":"quantitative","axis":{"values":[-20,-10,0,10,20],"title":"Component 1 (33%)","titlePadding":3,"labelPadding":4}},
       "y":{"field":"pc2","type":"quantitative","axis":{"values":[-10,-5,0,5,10],"title":null,"labelAngle":-90,"labelAlign":"center","labelBaseline":"bottom"}},
       "color":{"field":"g","type":"nominal","scale":{"domain":["Ctrl","Sac","Fru"],"range":["#ff0d0d","#00a844","#000000"]},"legend":null}}}
    ]},
   {"width":232,"height":866,"data":{"name":"a"},
    "encoding":{
     "x":{"field":"g","type":"nominal","scale":{"domain":["Ctrl","Sac","Fru"],"paddingInner":0,"paddingOuter":0.116},"axis":{"labels":false,"ticks":false,"title":"Pvalue=0.001","titlePadding":18}},
     "y":{"field":"pc2","type":"quantitative","scale":{"domain":[-14.1,14.1],"nice":false,"zero":false},"axis":{"values":[-10,-5,0,5,10],"title":"Component 2 (12%)","titleFontSize":27,"titlePadding":3}}},
    "layer":[
     {"mark":{"type":"boxplot","extent":1.5,"size":55,"outliers":false,"box":{"stroke":"#444","strokeWidth":1.5},"median":{"color":"#333","strokeWidth":2.5},"rule":{"color":"#8a8a8a","strokeWidth":3.5}},
      "encoding":{"color":{"field":"g","type":"nominal","scale":{"domain":["Ctrl","Sac","Fru"],"range":["#ff0d0d","#00a844","#000000"]},"legend":null}}},
     {"mark":{"type":"boxplot","extent":1.5,"box":false,"median":false,"rule":false,"ticks":false,"outliers":{"color":"#000","filled":true,"size":70,"opacity":1}}},
     {"mark":{"type":"circle","color":"#000","size":70,"opacity":1},"encoding":{"xOffset":{"field":"s","type":"nominal","scale":{"paddingOuter":0.5}}}}
    ]}
  ],"spacing":84,"bounds":"flush","resolve":{"scale":{"color":"independent"}}},
  {"width":878,"height":205,"data":{"name":"a"},
   "title":{"text":"Pvalue=0.001","anchor":"start","fontSize":26,"fontWeight":"normal","offset":10,"color":"#222"},
   "encoding":{
    "y":{"field":"g","type":"nominal","scale":{"domain":["Fru","Sac","Ctrl"],"paddingInner":0,"paddingOuter":0.085},"axis":null},
    "x":{"field":"pc1","type":"quantitative","scale":{"domain":[-27.1,23.3],"nice":false,"zero":false},"axis":{"values":[-20,-10,0,10,20],"title":null,"labelPadding":4}}},
   "layer":[
    {"mark":{"type":"boxplot","extent":1.5,"size":49,"outliers":false,"box":{"stroke":"#444","strokeWidth":1.5},"median":{"color":"#333","strokeWidth":2.5},"rule":{"color":"#8a8a8a","strokeWidth":3.5}},
     "encoding":{"color":{"field":"g","type":"nominal","scale":{"domain":["Ctrl","Sac","Fru"],"range":["#ff0d0d","#00a844","#000000"]},
      "legend":{"orient":"none","legendX":1009,"legendY":28,"title":null,"values":["Ctrl","Sac","Fru"],"symbolType":"circle","symbolSize":227,"symbolStrokeWidth":0,"labelFont":"Liberation Sans","labelFontSize":28,"labelColor":"#333","labelOffset":26,"rowPadding":9,"padding":0}}}},
    {"mark":{"type":"boxplot","extent":1.5,"box":false,"median":false,"rule":false,"ticks":false,"outliers":{"color":"#000","filled":true,"size":70,"opacity":1}}},
    {"mark":{"type":"circle","color":"#000","size":70,"opacity":1},"encoding":{"yOffset":{"field":"s","type":"nominal","scale":{"paddingOuter":0.5}}}}
   ]}
 ],"spacing":27,"resolve":{"scale":{"color":"independent"}}},
 {"vconcat":[
  {"hconcat":[
   {"width":871,"height":861,
    "title":{"text":"(B)","dx":0,"offset":50},
    "layer":[
     {"data":{"name":"eb"},"mark":{"type":"line","interpolate":"cardinal-closed","color":"#cccccc","strokeWidth":2},
      "encoding":{"x":{"field":"pc1","type":"quantitative","scale":{"domain":[-16.1,16.1],"nice":false,"zero":false},"axis":{"values":[-10,0,10],"title":"Component 1 (16%)","titlePadding":3,"labelPadding":4}},
       "y":{"field":"pc2","type":"quantitative","scale":{"domain":[-12.35,12.35],"nice":false,"zero":false},"axis":{"values":[-10,-5,0,5,10],"title":null,"labelAngle":-90,"labelAlign":"center","labelBaseline":"bottom"}},
       "order":{"field":"i","type":"quantitative"}}},
     {"data":{"values":[{}]},"mark":{"type":"rule","color":"#c0c0c0","strokeWidth":2.5},"encoding":{"x":{"datum":0,"type":"quantitative"}}},
     {"data":{"values":[{}]},"mark":{"type":"rule","color":"#c0c0c0","strokeWidth":2.5},"encoding":{"y":{"datum":0,"type":"quantitative"}}},
     {"data":{"name":"b"},"mark":{"type":"circle","size":190,"opacity":1},
      "encoding":{"x":{"field":"pc1","type":"quantitative","axis":{"values":[-10,0,10],"title":"Component 1 (16%)","titlePadding":3,"labelPadding":4}},
       "y":{"field":"pc2","type":"quantitative","axis":{"values":[-10,-5,0,5,10],"title":null,"labelAngle":-90,"labelAlign":"center","labelBaseline":"bottom"}},
       "color":{"field":"g","type":"nominal","scale":{"domain":["DssCtrl","DssSac","DssFru"],"range":["#0a71b5","#a64ca8","#ffff00"]},"legend":null}}}
    ]},
   {"width":230,"height":866,"data":{"name":"b"},
    "encoding":{
     "x":{"field":"g","type":"nominal","scale":{"domain":["DssCtrl","DssSac","DssFru"],"paddingInner":0,"paddingOuter":0.077},"axis":{"labels":false,"ticks":false,"title":"Pvalue=0.001","titlePadding":18}},
     "y":{"field":"pc2","type":"quantitative","scale":{"domain":[-12.35,12.35],"nice":false,"zero":false},"axis":{"values":[-10,-5,0,5,10],"title":"Component 2 (10.5%)","titleFontSize":27,"titlePadding":3}}},
    "layer":[
     {"mark":{"type":"boxplot","extent":1.5,"size":56,"outliers":false,"box":{"stroke":"#444","strokeWidth":1.5},"median":{"color":"#333","strokeWidth":2.5},"rule":{"color":"#8a8a8a","strokeWidth":3.5}},
      "encoding":{"color":{"field":"g","type":"nominal","scale":{"domain":["DssCtrl","DssSac","DssFru"],"range":["#0a71b5","#a64ca8","#ffff00"]},"legend":null}}},
     {"mark":{"type":"boxplot","extent":1.5,"box":false,"median":false,"rule":false,"ticks":false,"outliers":{"color":"#000","filled":true,"size":70,"opacity":1}}},
     {"mark":{"type":"circle","color":"#000","size":70,"opacity":1},"encoding":{"xOffset":{"field":"s","type":"nominal","scale":{"paddingOuter":0.5}}}}
    ]}
  ],"spacing":84,"bounds":"flush","resolve":{"scale":{"color":"independent"}}},
  {"width":871,"height":205,"data":{"name":"b"},
   "title":{"text":"Pvalue=0.001","anchor":"start","fontSize":26,"fontWeight":"normal","offset":10,"color":"#222"},
   "encoding":{
    "y":{"field":"g","type":"nominal","scale":{"domain":["DssFru","DssSac","DssCtrl"],"paddingInner":0,"paddingOuter":0.08},"axis":null},
    "x":{"field":"pc1","type":"quantitative","scale":{"domain":[-16.1,16.1],"nice":false,"zero":false},"axis":{"values":[-10,0,10],"title":null,"labelPadding":4}}},
   "layer":[
    {"mark":{"type":"boxplot","extent":1.5,"size":49,"outliers":false,"box":{"stroke":"#444","strokeWidth":1.5},"median":{"color":"#333","strokeWidth":2.5},"rule":{"color":"#8a8a8a","strokeWidth":3.5}},
     "encoding":{"color":{"field":"g","type":"nominal","scale":{"domain":["DssCtrl","DssSac","DssFru"],"range":["#0a71b5","#a64ca8","#ffff00"]},
      "legend":{"orient":"none","legendX":993,"legendY":29,"title":null,"values":["DssCtrl","DssSac","DssFru"],"symbolType":"circle","symbolSize":227,"symbolStrokeWidth":0,"labelFont":"Liberation Sans","labelFontSize":28,"labelColor":"#333","labelOffset":30,"rowPadding":10,"padding":0}}}},
    {"mark":{"type":"boxplot","extent":1.5,"box":false,"median":false,"rule":false,"ticks":false,"outliers":{"color":"#000","filled":true,"size":70,"opacity":1}}},
    {"mark":{"type":"circle","color":"#000","size":70,"opacity":1},"encoding":{"yOffset":{"field":"s","type":"nominal","scale":{"paddingOuter":0.5}}}}
   ]}
 ],"spacing":27,"resolve":{"scale":{"color":"independent"}}}
],"spacing":304,"resolve":{"scale":{"color":"independent"}}},
{"hconcat":[
 {"width":1148,"height":1087,
  "title":{"text":"(C)","dx":-95,"offset":30},
  "view":{"stroke":"#555","strokeWidth":2.5},
  "layer":[
   {"data":{"values":[{}]},"mark":{"type":"rule","color":"#c8c8c8","strokeWidth":3},"encoding":{"x":{"datum":0,"type":"quantitative","scale":{"domain":[-0.054,1.158],"nice":false,"zero":false},"axis":{"values":[0,0.3,0.6,0.9],"format":".1f","title":"Correlation Coefficient","titleFontSize":42,"titleColor":"#111","titlePadding":0,"labelFontSize":29,"labelColor":"#555","tickColor":"#555","tickSize":7,"tickWidth":2,"labelPadding":4}}}},
   {"data":{"values":[{}]},"mark":{"type":"rule","color":"#c8c8c8","strokeWidth":3},"encoding":{"y":{"datum":0,"type":"quantitative","scale":{"domain":[-1.1,1.1],"nice":false,"zero":false},"axis":{"values":[-1,-0.5,0,0.5,1],"format":".1f","title":null,"labelFontSize":29,"labelColor":"#555","tickColor":"#555","tickSize":7,"tickWidth":2,"labelPadding":4}}}},
   {"data":{"name":"pc"},"mark":{"type":"point","filled":true,"size":520,"stroke":"#000","strokeWidth":1.5,"opacity":1},
    "encoding":{
     "x":{"field":"x","type":"quantitative","axis":{"values":[0,0.3,0.6,0.9],"format":".1f","title":"Correlation Coefficient","titleFontSize":42,"titleColor":"#111","titlePadding":0,"labelFontSize":29,"labelColor":"#555","tickColor":"#555","tickSize":7,"tickWidth":2,"labelPadding":4}},
     "y":{"field":"y","type":"quantitative","axis":{"values":[-1,-0.5,0,0.5,1],"format":".1f","title":null,"labelFontSize":29,"labelColor":"#555","tickColor":"#555","tickSize":7,"tickWidth":2,"labelPadding":4}},
     "color":{"field":"k","type":"nominal","scale":{"domain":["R","Q"],"range":["#20a84f","#0000ff"]},
      "legend":{"orient":"none","legendX":1205,"legendY":535,"title":null,"labelFont":"Liberation Serif","labelFontSize":29,"labelColor":"#111","labelOffset":17,"rowPadding":27,"symbolSize":572,"symbolStrokeColor":"#000","symbolStrokeWidth":1.5,"padding":0,"labelExpr":"datum.label == 'R' ? 'R²Y=0.946' : 'Q²Y=0.77'"}},
     "shape":{"field":"k","type":"nominal","scale":{"domain":["R","Q"],"range":["circle","square"]},
      "legend":{"orient":"none","legendX":1205,"legendY":535,"title":null,"labelFont":"Liberation Serif","labelFontSize":29,"labelColor":"#111","labelOffset":17,"rowPadding":27,"symbolSize":572,"symbolStrokeColor":"#000","symbolStrokeWidth":1.5,"padding":0,"labelExpr":"datum.label == 'R' ? 'R²Y=0.946' : 'Q²Y=0.77'"}}}},
   {"data":{"name":"lc"},"mark":{"type":"line","color":"#000","strokeWidth":8,"strokeDash":[46,24]},
    "encoding":{
     "x":{"field":"x","type":"quantitative","axis":{"values":[0,0.3,0.6,0.9],"format":".1f","title":"Correlation Coefficient","titleFontSize":42,"titleColor":"#111","titlePadding":0,"labelFontSize":29,"labelColor":"#555","tickColor":"#555","tickSize":7,"tickWidth":2,"labelPadding":4}},
     "y":{"field":"y","type":"quantitative","axis":{"values":[-1,-0.5,0,0.5,1],"format":".1f","title":null,"labelFontSize":29,"labelColor":"#555","tickColor":"#555","tickSize":7,"tickWidth":2,"labelPadding":4}},
     "detail":{"field":"k","type":"nominal"}}}
  ]},
 {"width":1149,"height":1087,
  "title":{"text":"(D)","dx":-126,"offset":30},
  "view":{"stroke":"#555","strokeWidth":2.5},
  "layer":[
   {"data":{"values":[{}]},"mark":{"type":"rule","color":"#c8c8c8","strokeWidth":3},"encoding":{"x":{"datum":0,"type":"quantitative","scale":{"domain":[-0.054,1.154],"nice":false,"zero":false},"axis":{"values":[0,0.3,0.6,0.9],"format":".1f","title":"Correlation Coefficient","titleFontSize":42,"titleColor":"#111","titlePadding":0,"labelFontSize":29,"labelColor":"#555","tickColor":"#555","tickSize":7,"tickWidth":2,"labelPadding":4}}}},
   {"data":{"values":[{}]},"mark":{"type":"rule","color":"#c8c8c8","strokeWidth":3},"encoding":{"y":{"datum":0,"type":"quantitative","scale":{"domain":[-1.1,1.1],"nice":false,"zero":false},"axis":{"values":[-1,-0.5,0,0.5,1],"format":".1f","title":null,"labelFontSize":29,"labelColor":"#555","tickColor":"#555","tickSize":7,"tickWidth":2,"labelPadding":4}}}},
   {"data":{"name":"pd"},"mark":{"type":"point","filled":true,"size":520,"stroke":"#000","strokeWidth":1.5,"opacity":1},
    "encoding":{
     "x":{"field":"x","type":"quantitative","axis":{"values":[0,0.3,0.6,0.9],"format":".1f","title":"Correlation Coefficient","titleFontSize":42,"titleColor":"#111","titlePadding":0,"labelFontSize":29,"labelColor":"#555","tickColor":"#555","tickSize":7,"tickWidth":2,"labelPadding":4}},
     "y":{"field":"y","type":"quantitative","axis":{"values":[-1,-0.5,0,0.5,1],"format":".1f","title":null,"labelFontSize":29,"labelColor":"#555","tickColor":"#555","tickSize":7,"tickWidth":2,"labelPadding":4}},
     "color":{"field":"k","type":"nominal","scale":{"domain":["R","Q"],"range":["#20a84f","#0000ff"]},
      "legend":{"orient":"none","legendX":1200,"legendY":535,"title":null,"labelFont":"Liberation Serif","labelFontSize":29,"labelColor":"#111","labelOffset":15,"rowPadding":27,"symbolSize":572,"symbolStrokeColor":"#000","symbolStrokeWidth":1.5,"padding":0,"labelExpr":"datum.label == 'R' ? 'R²Y=0.982' : 'Q²Y=0.576'"}},
     "shape":{"field":"k","type":"nominal","scale":{"domain":["R","Q"],"range":["circle","square"]},
      "legend":{"orient":"none","legendX":1200,"legendY":535,"title":null,"labelFont":"Liberation Serif","labelFontSize":29,"labelColor":"#111","labelOffset":15,"rowPadding":27,"symbolSize":572,"symbolStrokeColor":"#000","symbolStrokeWidth":1.5,"padding":0,"labelExpr":"datum.label == 'R' ? 'R²Y=0.982' : 'Q²Y=0.576'"}}}},
   {"data":{"name":"ld"},"mark":{"type":"line","color":"#000","strokeWidth":8,"strokeDash":[46,24]},
    "encoding":{
     "x":{"field":"x","type":"quantitative","axis":{"values":[0,0.3,0.6,0.9],"format":".1f","title":"Correlation Coefficient","titleFontSize":42,"titleColor":"#111","titlePadding":0,"labelFontSize":29,"labelColor":"#555","tickColor":"#555","tickSize":7,"tickWidth":2,"labelPadding":4}},
     "y":{"field":"y","type":"quantitative","axis":{"values":[-1,-0.5,0,0.5,1],"format":".1f","title":null,"labelFontSize":29,"labelColor":"#555","tickColor":"#555","tickSize":7,"tickWidth":2,"labelPadding":4}},
     "detail":{"field":"k","type":"nominal"}}}
  ]}
],"spacing":362,"bounds":"flush","resolve":{"scale":{"color":"independent","shape":"independent"}}}
],
"spacing":9,
"resolve":{"scale":{"color":"independent","shape":"independent"}}
}
